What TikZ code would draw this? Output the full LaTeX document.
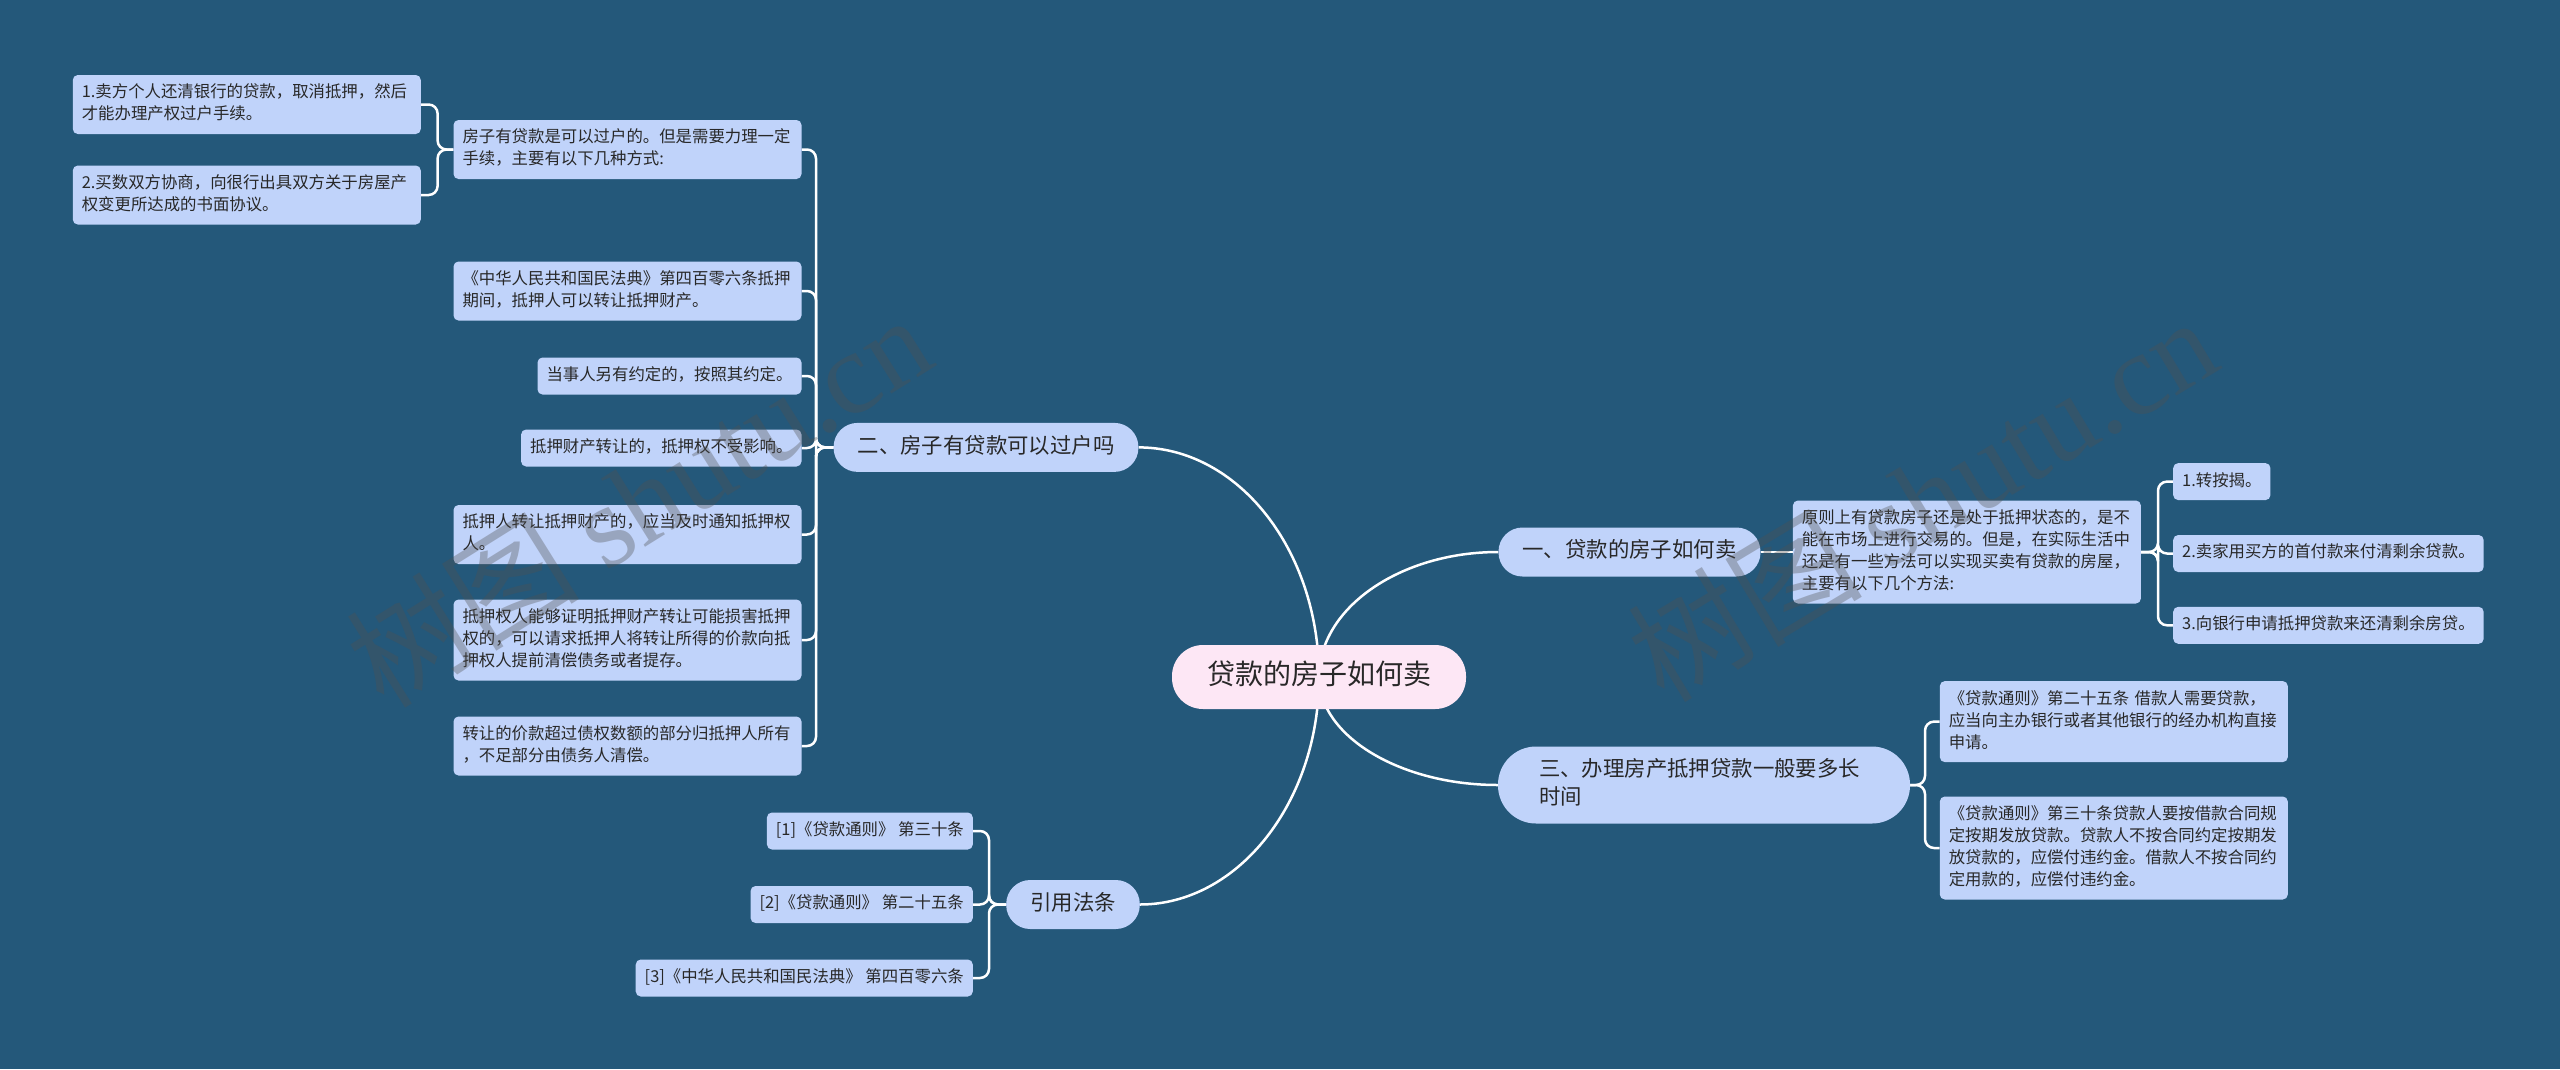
\documentclass[tikz,border=0pt]{standalone}
\usepackage{fontspec}
\setmainfont{Noto Sans CJK SC}
\newfontfamily\wmlatin{Liberation Serif}
\usetikzlibrary{backgrounds}

\definecolor{bgc}{RGB}{36,88,122}
\definecolor{nodefill}{RGB}{192,211,250}
\definecolor{rootfill}{RGB}{253,231,245}
\definecolor{txt}{RGB}{40,40,40}
\definecolor{wmc}{RGB}{80,80,80}

\begin{document}
\begin{tikzpicture}[x=1pt,y=-1pt,
  leaf/.style={fill=nodefill, rounded corners=5pt, inner xsep=9pt, inner ysep=7.5pt, text=txt,
    font=\fontsize{16.4}{22}\selectfont, execute at begin node=\strut, execute at end node=\strut},
  leafw/.style={leaf, text width=330pt, align=left},
  topic/.style={fill=nodefill, rounded corners=24pt, inner xsep=24pt, inner ysep=10.5pt, text=txt,
    font=\fontsize{21.4}{28}\selectfont, execute at begin node=\strut, execute at end node=\strut},
  rootnode/.style={fill=rootfill, rounded corners=31pt, inner xsep=35pt, inner ysep=14pt, text=txt,
    font=\fontsize{28}{36}\selectfont, execute at begin node=\strut, execute at end node=\strut},
  conn/.style={draw=white, line width=2.5pt, rounded corners=9pt},
  curve/.style={draw=white, line width=2.5pt},
  wm/.style={text=wmc, opacity=0.35, font=\fontsize{117}{117}\selectfont},
]
\useasboundingbox (0,0) rectangle (2560,1069);

% central and main topics
\node[rootnode] (root) at (1319,677) {贷款的房子如何卖};
\node[topic] (er) at (986,447.4) {二、房子有贷款可以过户吗};
\node[topic] (yi) at (1629.5,552) {一、贷款的房子如何卖};
\node[topic, text width=330pt, align=left, inner xsep=41pt, rounded corners=38pt] (san) at (1704,785) {三、办理房产抵押贷款一般要多长\\时间};
\node[topic] (yin) at (1073,904.5) {引用法条};

% branch 二
\node[leafw, anchor=east] (p1) at (801.7,149.5) {房子有贷款是可以过户的。但是需要力理一定\\手续，主要有以下几种方式:};
\node[leafw, anchor=east] (l1) at (421,104.5) {1.卖方个人还清银行的贷款，取消抵押，然后\\才能办理产权过户手续。};
\node[leafw, anchor=east] (l2) at (421,195) {2.买数双方协商，向很行出具双方关于房屋产\\权变更所达成的书面协议。};
\node[leafw, anchor=east] (c2) at (801.7,291) {《中华人民共和国民法典》第四百零六条抵押\\期间，抵押人可以转让抵押财产。};
\node[leaf, anchor=east] (c3) at (801.7,376) {当事人另有约定的，按照其约定。};
\node[leaf, anchor=east] (c4) at (801.7,448) {抵押财产转让的，抵押权不受影响。};
\node[leafw, anchor=east] (c5) at (801.7,534.5) {抵押人转让抵押财产的，应当及时通知抵押权\\人。};
\node[leafw, anchor=east] (c6) at (801.7,640) {抵押权人能够证明抵押财产转让可能损害抵押\\权的，可以请求抵押人将转让所得的价款向抵\\押权人提前清偿债务或者提存。};
\node[leafw, anchor=east] (c7) at (801.7,746) {转让的价款超过债权数额的部分归抵押人所有\\，不足部分由债务人清偿。};

% branch 一
\node[leafw, anchor=west] (p2) at (1792.7,552) {原则上有贷款房子还是处于抵押状态的，是不\\能在市场上进行交易的。但是，在实际生活中\\还是有一些方法可以实现买卖有贷款的房屋，\\主要有以下几个方法:};
\node[leaf, anchor=west] (s1) at (2173,481.6) {1.转按揭。};
\node[leaf, anchor=west] (s2) at (2173,553.5) {2.卖家用买方的首付款来付清剩余贷款。};
\node[leaf, anchor=west] (s3) at (2173,625.3) {3.向银行申请抵押贷款来还清剩余房贷。};

% branch 三
\node[leafw, anchor=west] (t1) at (1939.6,721.6) {《贷款通则》第二十五条 借款人需要贷款，\\应当向主办银行或者其他银行的经办机构直接\\申请。};
\node[leafw, anchor=west] (t2) at (1939.6,848) {《贷款通则》第三十条贷款人要按借款合同规\\定按期发放贷款。贷款人不按合同约定按期发\\放贷款的，应偿付违约金。借款人不按合同约\\定用款的，应偿付违约金。};

% branch 引用法条
\node[leaf, anchor=east] (r1) at (973,831) {[1]《贷款通则》 第三十条};
\node[leaf, anchor=east] (r2) at (973,904.5) {[2]《贷款通则》 第二十五条};
\node[leaf, anchor=east] (r3) at (973,978) {[3]《中华人民共和国民法典》 第四百零六条};

% bracket points
\coordinate (bEr) at (816,447.4);
\coordinate (bP1) at (437.6,149.5);
\coordinate (bP2) at (2158,552);
\coordinate (bSan) at (1925,785);
\coordinate (bYin) at (989,904.5);

\begin{scope}[on background layer]
  \fill[bgc] (0,0) rectangle (2560,1069);
  \draw[curve] (root.center) .. controls (1319,550) and (1238,447.4) .. (er.east);
  \draw[curve] (root.center) .. controls (1319,608) and (1400,552) .. (yi.west);
  \draw[curve] (root.center) .. controls (1319,736) and (1400,785) .. (san.west);
  \draw[curve] (root.center) .. controls (1319,802) and (1238,904.5) .. (yin.east);
  \foreach \c in {p1,c2,c3,c4,c5,c6,c7}
    \draw[conn] (er.west) -- (bEr) |- (\c.east);
  \foreach \c in {l1,l2}
    \draw[conn] (p1.west) -- (bP1) |- (\c.east);
  \draw[conn] (yi.east) -- (p2.west);
  \foreach \c in {s1,s2,s3}
    \draw[conn] (p2.east) -- (bP2) |- (\c.west);
  \foreach \c in {t1,t2}
    \draw[conn] (san.east) -- (bSan) |- (\c.west);
  \foreach \c in {r1,r2,r3}
    \draw[conn] (yin.west) -- (bYin) |- (\c.east);
\end{scope}

% watermarks
\node[wm, rotate=32] (wm1) at (638,500) {树图 {\wmlatin shutu.cn}};
\node[wm, rotate=31] (wm2) at (1922,498) {树图 {\wmlatin shutu.cn}};
\end{tikzpicture}
\end{document}
